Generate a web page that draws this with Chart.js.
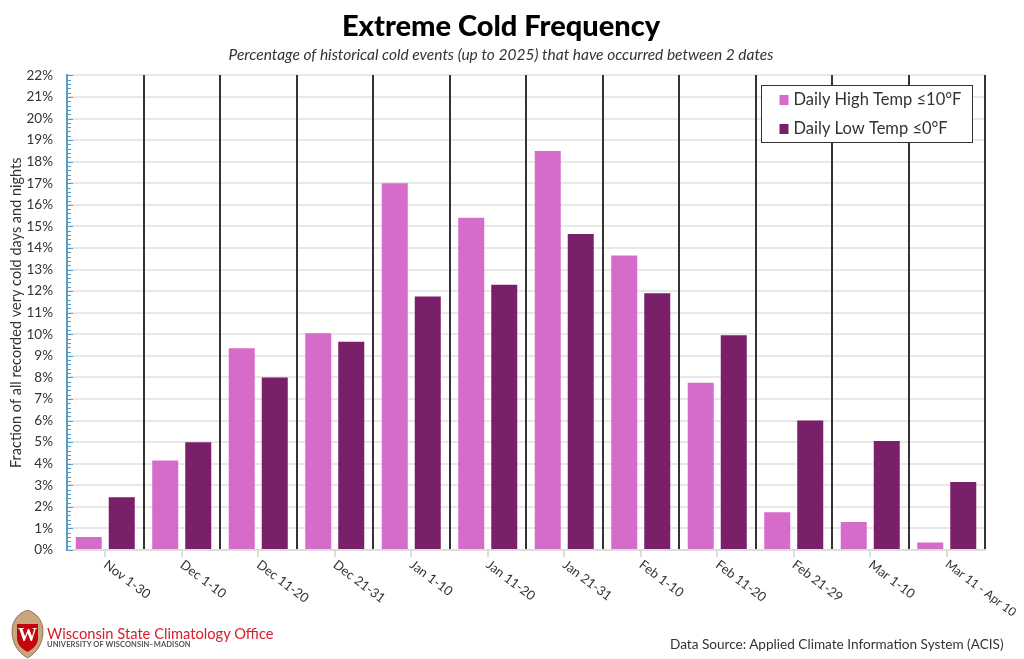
<!DOCTYPE html>
<html><head><meta charset="utf-8">
<style>
html,body{margin:0;padding:0;background:#fff;width:1024px;height:659px;overflow:hidden}
#wrap{position:relative;width:1024px;height:659px}
canvas{display:block}
.t{position:absolute;white-space:nowrap;font-family:Lato,sans-serif}
</style></head><body>
<div id="wrap">
<canvas id="c" width="1024" height="659"></canvas>
<svg class="t" style="left:11px;top:610px" width="33" height="49" viewBox="0 0 33 49">
<path d="M16.5 0 C11 2 4 6 1.500 16 C-0.500 28 4 41 16.500 48 C29 41 33.500 28 31.500 16 C29 6 22 2 16.500 0Z" fill="#c9a67e" stroke="#8f7355" stroke-width="1"/>
<path d="M6 14 H27 V28 C27 35 22 39 16.500 42 C11 39 6 35 6 28Z" fill="#c5050c"/>
<text x="16.500" y="31" font-family="Liberation Serif" font-weight="bold" font-size="19" fill="#fff" text-anchor="middle">W</text>
</svg>
<div class="t" style="left:47px;top:624px;font-size:14.700px;color:#d3202e">Wisconsin State Climatology Office</div>
<div class="t" style="left:47px;top:640px;font-size:7.500px;font-weight:bold;letter-spacing:0.100px;color:#555">UNIVERSITY OF WISCONSIN–MADISON</div>
<div class="t" style="left:670px;top:636px;font-size:13.600px;color:#333">Data Source: Applied Climate Information System (ACIS)</div>
</div>
<script src="https://cdn.jsdelivr.net/npm/chart.js@4"></script>
<script>
const titleText = 'Extreme Cold Frequency';
const subtitleText = 'Percentage of historical cold events (up to 2025) that have occurred between 2 dates';
const yTitle = 'Fraction of all recorded very cold days and nights';
const categories = ['Nov 1-30','Dec 1-10','Dec 11-20','Dec 21-31','Jan 1-10','Jan 11-20','Jan 21-31','Feb 1-10','Feb 11-20','Feb 21-29','Mar 1-10','Mar 11 - Apr 10'];
const highValues = [0.6,4.15,9.35,10.05,17.0,15.4,18.5,13.65,7.75,1.75,1.3,0.35];
const lowValues = [2.45,5.0,8.0,9.65,11.75,12.3,14.65,11.9,9.95,6.0,5.05,3.15];
const FONT = 'Lato';

const minorTicks = {
  id:'minorTicks',
  afterDatasetsDraw(chart){
    const y = chart.scales.y, ctx = chart.ctx;
    ctx.save();
    ctx.strokeStyle = '#5b9cc2'; ctx.lineWidth = 1;
    for(let i=0;i<=110;i++){
      const p = Math.round(y.getPixelForValue(i/5))+0.5;
      ctx.beginPath(); ctx.moveTo(y.right, p); ctx.lineTo(y.right + (i%5===0?6:4), p); ctx.stroke();
    }
    ctx.restore();
  }
};
const boxLegend = {
  id:'boxLegend',
  afterDatasetsDraw(chart){
    const ctx = chart.ctx;
    const L=761.5,T=85.5,W=211,H=57;
    ctx.save();
    ctx.fillStyle='#fff'; ctx.strokeStyle='#333'; ctx.lineWidth=1;
    ctx.fillRect(L,T,W,H); ctx.strokeRect(L,T,W,H);
    chart.data.datasets.forEach((d,i)=>{
      const cy = T+14.5+i*29;
      ctx.fillStyle=d.backgroundColor;
      ctx.fillRect(L+18,cy-5,9,10);
      ctx.fillStyle='#333'; ctx.font='16.5px '+FONT; ctx.textBaseline='middle'; ctx.textAlign='left';
      ctx.fillText(d.label,L+32,cy);
    });
    ctx.restore();
  }
};

new Chart(document.getElementById('c'),{
  type:'bar',
  data:{labels:categories,datasets:[
    {label:'Daily High Temp ≤10°F',data:highValues,backgroundColor:'#d66cc9',categoryPercentage:0.863,barPercentage:0.788},
    {label:'Daily Low Temp ≤0°F',data:lowValues,backgroundColor:'#7a1f6a',categoryPercentage:0.863,barPercentage:0.788}
  ]},
  options:{
    responsive:false,animation:false,devicePixelRatio:1,
    layout:{padding:{left:17,right:39,top:0,bottom:0}},
    plugins:{
      legend:{display:false},tooltip:{enabled:false},
      title:{display:true,text:titleText,color:'#000',font:{family:FONT,size:29,weight:'900'},padding:{top:9,bottom:2}},
      subtitle:{display:true,text:subtitleText,color:'#333',font:{family:FONT,size:15.500,style:'italic'},padding:{top:0,bottom:11}}
    },
    scales:{
      x:{
        beforeUpdate(s){s._getXAxisLabelAlignment=()=>'left';},
        afterFit(s){s.height=109;},
        grid:{drawOnChartArea:false,offset:false,color:'#dddddd',lineWidth:2,tickLength:7},
        border:{color:'#dddddd',width:2},
        ticks:{color:'#333',font:c=>({family:FONT,size:c.index===categories.length-1?12:13}),minRotation:-37,maxRotation:-37,padding:0,autoSkip:false}
      },
      xb:{
        position:'top',type:'category',labels:categories,
        afterFit(s){s.height=0;},
        grid:{offset:true,drawTicks:false,z:-0.5,color:c=>c.index===0?'rgba(0,0,0,0)':'#333333',lineWidth:2},
        border:{display:false},
        ticks:{display:false}
      },
      y:{
        min:0,max:22,
        afterFit(s){s.width=50;},
        grid:{color:'#e8e8e8',lineWidth:2,drawTicks:false},
        border:{color:'#5b9cc2',width:2},
        ticks:{stepSize:1,color:'#333',font:{family:FONT,size:13.500},padding:14,callback:v=>v+'%'},
        title:{display:true,text:yTitle,color:'#333',font:{family:FONT,size:14.500},padding:{top:-9,bottom:0}}
      }
    }
  },
  plugins:[minorTicks,boxLegend]
});
</script>
</body></html>
